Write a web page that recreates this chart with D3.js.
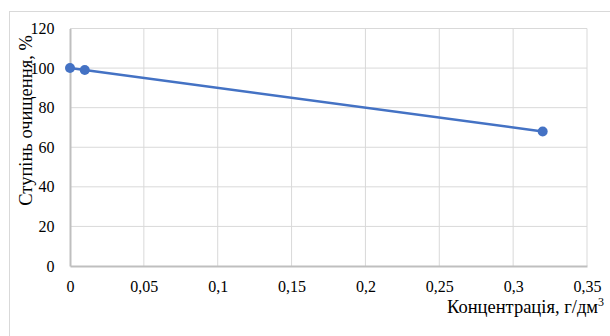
<!DOCTYPE html>
<html><head><meta charset="utf-8">
<script src="https://cdn.jsdelivr.net/npm/d3@7"></script>
<style>body{margin:0;background:#fff}svg{display:block}</style>
</head><body>
<script>
const xValues = [0, 0.01, 0.32];
const yValues = [100, 99, 68];
const xTicks = [0, 0.05, 0.1, 0.15, 0.2, 0.25, 0.3, 0.35];
const yTicks = [0, 20, 40, 60, 80, 100, 120];
const xTitle = "Концентрація, г/дм";
const yTitle = "Ступінь очищення, %";

const W = 610, H = 336;
const FF = '"Liberation Serif"';
const svg = d3.select("body").append("svg").attr("width", W).attr("height", H);

svg.append("rect").attr("x", 9.5).attr("y", 11.5).attr("width", 620).attr("height", 340)
  .attr("fill", "none").attr("stroke", "#d9d9d9").attr("stroke-width", 1);

const x = d3.scaleLinear().domain([0, 0.35]).range([70, 587]);
const y = d3.scaleLinear().domain([0, 120]).range([266, 28.5]);

const fmt = d => String(d).replace(".", ",");

// gridlines
svg.append("g").selectAll("line").data(yTicks.filter(d => d > 0)).join("line")
  .attr("x1", x(0)).attr("x2", x(0.35)).attr("y1", d => y(d)).attr("y2", d => y(d))
  .attr("stroke", "#d9d9d9").attr("stroke-width", 1);
svg.append("g").selectAll("line").data(xTicks.filter(d => d > 0)).join("line")
  .attr("y1", y(0)).attr("y2", y(120)).attr("x1", d => x(d)).attr("x2", d => x(d))
  .attr("stroke", "#d9d9d9").attr("stroke-width", 1);

// axes
const xAxis = d3.axisBottom(x).tickValues(xTicks).tickFormat(fmt).tickSize(0).tickPadding(15);
const gx = svg.append("g").attr("transform", `translate(0,${y(0)})`).call(xAxis);
gx.attr("font-family", null).attr("font-size", null);
gx.select(".domain").attr("stroke", "#bfbfbf").attr("stroke-width", 2);
gx.selectAll("text").style("font-family", FF).style("font-size", "16px").attr("fill", "#000");

const yAxis = d3.axisLeft(y).tickValues(yTicks).tickFormat(fmt).tickSize(0).tickPadding(15.5);
const gy = svg.append("g").attr("transform", `translate(${x(0)},0)`).call(yAxis);
gy.attr("font-family", null).attr("font-size", null);
gy.select(".domain").attr("stroke", "#bfbfbf").attr("stroke-width", 2);
gy.selectAll("text").style("font-family", FF).style("font-size", "16px").attr("fill", "#000");

// line
const pts = xValues.map((v, i) => [v, yValues[i]]);
svg.append("path").datum(pts)
  .attr("d", d3.line().x(d => x(d[0])).y(d => y(d[1])))
  .attr("fill", "none").attr("stroke", "#4472c4").attr("stroke-width", 2.5);
svg.append("g").selectAll("circle").data(pts).join("circle")
  .attr("cx", d => x(d[0])).attr("cy", d => y(d[1])).attr("r", 5)
  .attr("fill", "#4472c4");

// titles
const xt = svg.append("text").attr("x", 447).attr("y", 313)
  .style("font-family", FF).attr("font-size", 18.5).attr("fill", "#000");
xt.append("tspan").text(xTitle);
xt.append("tspan").attr("dy", -7).attr("font-size", 12).text("3");

svg.append("text").attr("transform", "translate(32,120.5) rotate(-90)")
  .attr("text-anchor", "middle").style("font-family", FF).attr("font-size", 18.5)
  .attr("fill", "#000").text(yTitle);
</script>
</body></html>
